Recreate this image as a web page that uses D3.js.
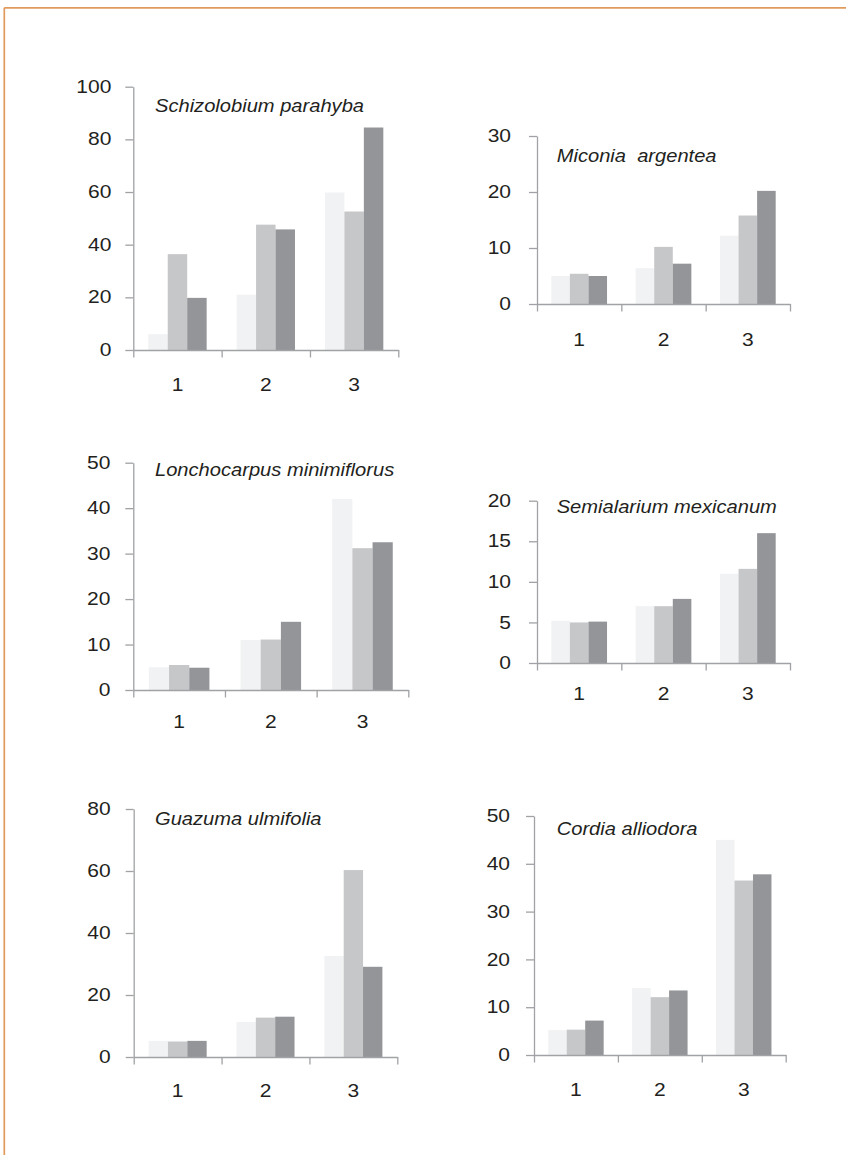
<!DOCTYPE html>
<html>
<head>
<meta charset="utf-8">
<script src="https://cdn.jsdelivr.net/npm/d3@7"></script>
<style>
  html, body { margin: 0; padding: 0; background: #fff; }
  svg { display: block; }
  text { font-family: "Liberation Sans", Arial, sans-serif; fill: #231f20; }
</style>
</head>
<body>
<svg id="chart" width="846" height="1155"></svg>
<script>
// Category labels on the x axis and the three series in each group
const categories = ["1", "2", "3"];
const seriesKeys = ["a", "b", "c"];
const seriesColors = ["#f1f2f3", "#c6c7c9", "#939598"];

// Values per category: [light, mid, dark]
const schizolobium  = [[6, 36.4, 19.8], [21, 47.6, 45.8], [59.8, 52.6, 84.5]];
const miconia       = [[5.0, 5.4, 5.0], [6.4, 10.2, 7.2], [12.2, 15.8, 20.2]];
const lonchocarpus  = [[5.0, 5.5, 4.9], [11.0, 11.1, 15.0], [42.0, 31.2, 32.5]];
const semialarium   = [[5.2, 5.0, 5.1], [7.0, 7.0, 7.9], [11.0, 11.6, 16.0]];
const guazuma       = [[5.2, 5.0, 5.2], [11.3, 12.7, 13.0], [32.6, 60.3, 29.1]];
const cordia        = [[5.2, 5.3, 7.2], [14.0, 12.1, 13.5], [45.0, 36.5, 37.8]];

// Y-axis tick values for each panel
const ticksSchizolobium = [0, 20, 40, 60, 80, 100];
const ticksMiconia      = [0, 10, 20, 30];
const ticksLonchocarpus = [0, 10, 20, 30, 40, 50];
const ticksSemialarium  = [0, 5, 10, 15, 20];
const ticksGuazuma      = [0, 20, 40, 60, 80];
const ticksCordia       = [0, 10, 20, 30, 40, 50];

const panels = [
  { title: "Schizolobium parahyba", values: schizolobium, ticks: ticksSchizolobium,
    left: 133.3, right: 398.3, bottom: 350, top: 86.7, tx: 155, ty: 111.7, labelGap: 22, base: 41.5 },
  { title: "Miconia  argentea", values: miconia, ticks: ticksMiconia,
    left: 537, right: 790, bottom: 304, top: 136, tx: 556.7, ty: 161.7, labelGap: 26, base: 42.5 },
  { title: "Lonchocarpus minimiflorus", values: lonchocarpus, ticks: ticksLonchocarpus,
    left: 133.3, right: 408.3, bottom: 690, top: 462.7, tx: 155, ty: 476, labelGap: 23, base: 38.5 },
  { title: "Semialarium mexicanum", values: semialarium, ticks: ticksSemialarium,
    left: 537, right: 790, bottom: 663, top: 500.7, tx: 556.7, ty: 513.3, labelGap: 26, base: 37.5 },
  { title: "Guazuma ulmifolia", values: guazuma, ticks: ticksGuazuma,
    left: 133.7, right: 397.3, bottom: 1057, top: 809, tx: 155, ty: 825, labelGap: 23, base: 40 },
  { title: "Cordia alliodora", values: cordia, ticks: ticksCordia,
    left: 534, right: 785.7, bottom: 1055, top: 816, tx: 556.7, ty: 835, labelGap: 24, base: 41 }
];

const svg = d3.select("#chart");
const axisColor = "#a0a2a5";
const fontSize = 17.5;
const stretch = 1.2;        // numerals are set slightly wide
const titleStretch = 1.15;  // species names

// Page frame: orange rule along the top and left edges
const frame = svg.append("g").attr("stroke", "#e09a5c").attr("stroke-width", 1.7);
frame.append("line").attr("x1", 4.3).attr("y1", 7.8).attr("x2", 846).attr("y2", 7.8);
frame.append("line").attr("x1", 4.3).attr("y1", 7.8).attr("x2", 4.3).attr("y2", 1155);

panels.forEach(p => {
  const g = svg.append("g");
  const maxV = p.ticks[p.ticks.length - 1];

  const y = d3.scaleLinear().domain([0, maxV]).range([p.bottom, p.top]);
  const x = d3.scaleBand().domain(categories).range([p.left, p.right]).padding(0);
  const xs = d3.scaleBand().domain(seriesKeys).range([0, x.bandwidth()])
    .paddingInner(0).paddingOuter(0.77);
  const xEdge = d3.scaleLinear().domain([0, categories.length]).range([p.left, p.right]);

  // Bars
  categories.forEach((c, ci) => {
    g.selectAll(null)
      .data(p.values[ci].map((v, si) => ({ key: seriesKeys[si], v, color: seriesColors[si] })))
      .join("rect")
      .attr("x", d => x(c) + xs(d.key))
      .attr("width", xs.bandwidth())
      .attr("y", d => y(d.v))
      .attr("height", d => y(0) - y(d.v))
      .attr("fill", d => d.color);
  });

  // Y axis
  const yAxis = g.append("g")
    .attr("transform", `translate(${p.left},0)`)
    .call(d3.axisLeft(y).tickValues(p.ticks).tickSize(8).tickSizeOuter(0));
  yAxis.select(".domain").attr("stroke", axisColor).attr("stroke-width", 1.3);
  yAxis.selectAll(".tick line").attr("stroke", axisColor).attr("stroke-width", 1.3);
  yAxis.selectAll(".tick text")
    .attr("font-size", fontSize).attr("fill", "#231f20")
    .attr("font-family", "'Liberation Sans', Arial, sans-serif")
    .attr("x", -p.labelGap / stretch)
    .attr("transform", `scale(${stretch},1)`);

  // X axis: tick marks between categories
  const xAxis = g.append("g")
    .attr("transform", `translate(0,${p.bottom})`)
    .call(d3.axisBottom(xEdge).tickValues(d3.range(categories.length + 1))
      .tickSize(7.5).tickSizeOuter(0).tickFormat(""));
  xAxis.select(".domain").attr("stroke", axisColor).attr("stroke-width", 1.3);
  xAxis.selectAll(".tick line").attr("stroke", axisColor).attr("stroke-width", 1.3);

  // Category labels centred in each band
  const xLabels = g.append("g")
    .attr("transform", `translate(0,${p.bottom})`)
    .call(d3.axisBottom(x).tickSize(0));
  xLabels.select(".domain").remove();
  xLabels.selectAll(".tick text")
    .attr("font-size", fontSize).attr("fill", "#231f20")
    .attr("font-family", "'Liberation Sans', Arial, sans-serif")
    .attr("y", p.base).attr("dy", null)
    .attr("transform", `scale(${stretch},1)`);

  // Species name
  g.append("text")
    .attr("transform", `translate(${p.tx},${p.ty}) scale(${titleStretch},1)`)
    .attr("font-size", fontSize).attr("font-style", "italic")
    .attr("fill", "#231f20")
    .attr("xml:space", "preserve")
    .style("white-space", "pre")
    .text(p.title);
});
</script>
</body>
</html>
